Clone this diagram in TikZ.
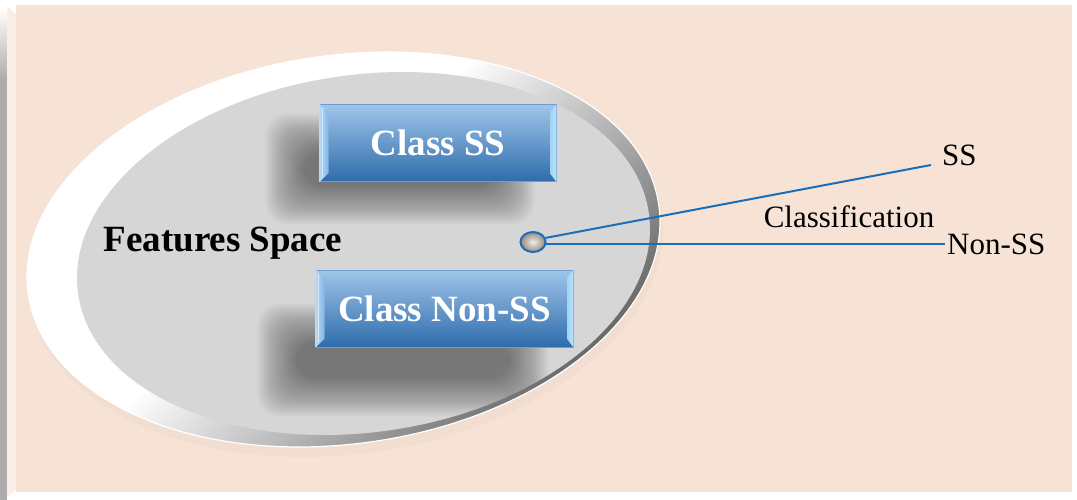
\documentclass[tikz,border=0pt]{standalone}
\usepackage{fontspec}
\setmainfont{Liberation Serif}
\usetikzlibrary{calc,shapes.geometric}

\definecolor{peach}{RGB}{247,227,214}
\definecolor{panelgrey}{RGB}{214,214,214}
\definecolor{frameg}{RGB}{172,172,172}
\definecolor{boxtop}{RGB}{160,197,233}
\definecolor{boxbot}{RGB}{46,108,172}
\definecolor{boxline}{RGB}{110,155,208}
\definecolor{bevL}{RGB}{150,200,242}
\definecolor{bevR}{RGB}{185,230,255}
\definecolor{linkblue}{RGB}{26,110,184}
\definecolor{pebble}{RGB}{200,184,168}

% rim shading: white on the upper left, dark toward the lower right
\pgfdeclareverticalshading{rimshade}{100bp}{%
  color(0bp)=(black!72); color(28bp)=(black!58); color(42bp)=(black!28);
  color(55bp)=(white); color(100bp)=(white)}

\tikzset{
  classbox/.style={draw=boxline, line width=0.8pt,
    top color=boxtop, bottom color=boxbot,
    minimum height=77pt, inner sep=0pt,
    text=white, font=\bfseries\fontsize{37}{40}\selectfont},
  plain/.style={font=\fontsize{31}{34}\selectfont, inner sep=0pt},
  link/.style={draw=linkblue, line width=2pt},
  pebblenode/.style={ellipse, draw=linkblue, line width=2pt,
    minimum width=25pt, minimum height=20pt, inner sep=0pt,
    inner color=white!75!pebble, outer color=pebble!75!black},
  softlayer/.style={fill=black, opacity=0.0115, rounded corners=22pt}
}

% soft drop shadow: core rectangle (x0,y0)-(x1,y1), spread by stacked layers
\newcommand\softshadow[4]{%
  \foreach \i in {0,...,39}{%
    \pgfmathsetmacro\e{\i-20}%
    \fill[softlayer] ({#1-\e},{#2-\e}) rectangle ({#3+\e},{#4+\e});
  }}

\begin{document}
\begin{tikzpicture}[x=1pt,y=-1pt]
\useasboundingbox (0,0) rectangle (1077,500);

% frame
\fill[white] (0,0) rectangle (1077,500);
\shade[top color=white, bottom color=frameg] (0,8) rectangle (7,80);
\fill[frameg] (0,80) rectangle (7,500);
\fill[white] (7,6) rectangle (16,497);
\fill[peach!60!white] (7,6) -- (16,14) -- (16,490) -- (7,497) -- cycle;
\fill[peach] (16,5) rectangle (1072,492);
\draw[white!85!peach, line width=0.8pt] (1073,5) -- (1073,493);

% feature space: raised rim and inner panel
\fill[black, opacity=0.02] (346,256) ellipse [x radius=319, y radius=198, rotate=8];
\shade[shading=rimshade, shading angle=45] (343.5,249.5) ellipse [x radius=318.4, y radius=194.3, rotate=8];
\draw[white, line width=1.2pt] (343.5,249.5) ellipse [x radius=318.4, y radius=194.3, rotate=8];
\fill[panelgrey] (363.5,253.5) ellipse [x radius=288.2, y radius=178.7, rotate=8];

% shadows cast by the class boxes
\begin{scope}
\clip (363.5,253.5) ellipse [x radius=288.2, y radius=178.7, rotate=8];
\softshadow{284}{132}{516}{206}
\softshadow{276}{322}{530}{398}
\end{scope}

\node[font=\bfseries\fontsize{37}{40}\selectfont, inner sep=0pt] (fs) at (223,243) {Features Space};

% class boxes
\node[classbox, minimum width=236pt] (ss) at (438,143) {Class SS};
\node[classbox, minimum width=257pt] (nss) at (444.5,308.5) {Class Non-SS};

% bevelled side edges of the boxes
\foreach \b in {ss,nss}{
  \shade[left color=bevL!70!white, right color=bevL!80!boxbot]
    (\b.north west) -- ($(\b.north west)+(9,9)$) -- ($(\b.south west)+(9,-9)$) -- (\b.south west) -- cycle;
  \draw[white!60!bevL, line width=1pt] ($(\b.north west)+(3,4)$) -- ($(\b.south west)+(3,-4)$);
  \shade[left color=bevR!85!boxbot, right color=bevR]
    (\b.north east) -- ($(\b.north east)+(-6,8)$) -- ($(\b.south east)+(-6,-8)$) -- (\b.south east) -- cycle;
}

% sample point and its two outcomes
\node[pebblenode] (pt) at (533,242) {};
\node[plain, anchor=west] (lss) at (942,155) {SS};
\node[plain, anchor=west] (lnss) at (947,244) {Non-SS};
\node[plain] (cls) at (849,217) {Classification};
\coordinate (ssend) at (931,165);
\coordinate (nssend) at (945,245);

\draw[link] (pt.18) -- (ssend);
\draw[link] (pt.-10) -- (pt.-10 -| nssend);
\end{tikzpicture}
\end{document}
